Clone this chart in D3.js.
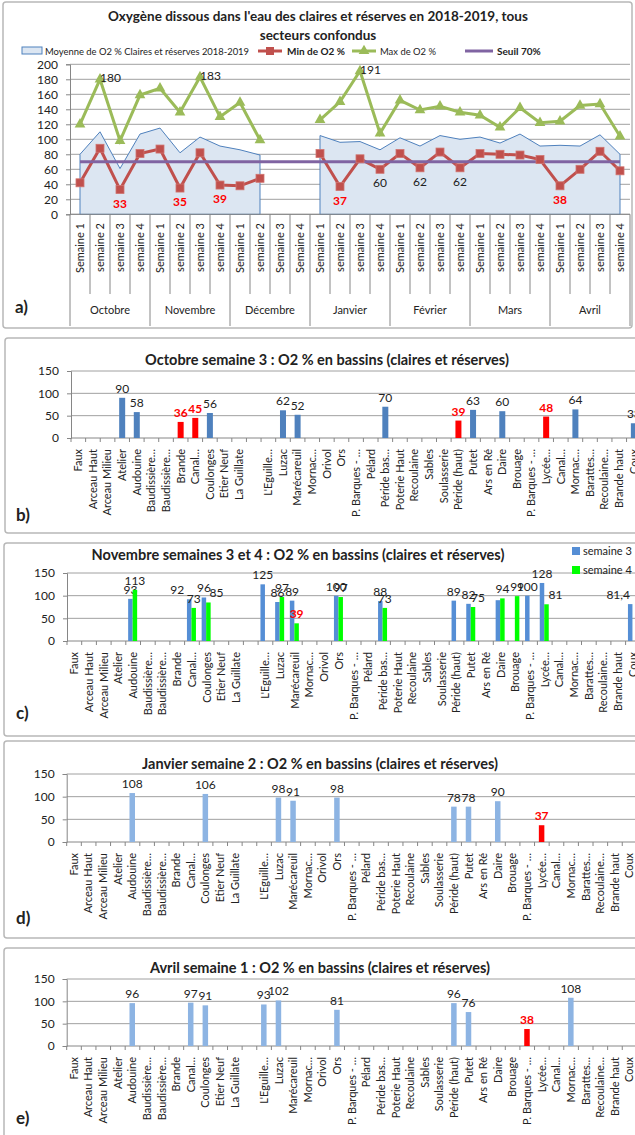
<!DOCTYPE html>
<html>
<head>
<meta charset="utf-8">
<script src="https://cdn.jsdelivr.net/npm/d3@7"></script>
<style>
  body { margin: 0; background: #fff; }
  text { font-family: Lato, "Open Sans", sans-serif; }
</style>
</head>
<body>
<script>
// ---- panel a : weekly O2 %, all sectors ----
const months = ["Octobre", "Novembre", "Décembre", "Janvier", "Février", "Mars", "Avril"];
const weeks = [
  "Semaine 1", "semaine 2", "semaine 3", "semaine 4",
  "Semaine 1", "semaine 2", "semaine 3", "semaine 4",
  "Semaine 1", "semaine 2", "Semaine 3", "Semaine 4",
  "Semaine 1", "semaine 2", "semaine 3", "semaine 4",
  "Semaine 1", "semaine 2", "semaine 3", "semaine 4",
  "Semaine 1", "semaine 2", "semaine 3", "semaine 4",
  "Semaine 1", "semaine 2", "semaine 3", "semaine 4"
];
const moyenne = [80, 110, 61, 107, 115, 82, 103, 91, 86, 79, null, null,
  105, 96, 97, 86, 102, 91, 105, 100, 103, 95, 107, 91, 92, 91, 106, 80];
const minO2 = [42, 88, 33, 81, 87, 35, 82, 39, 38, 48, null, null,
  81, 37, 74, 60, 81, 62, 83, 62, 81, 80, 79, 73, 38, 60, 84, 58];
const maxO2 = [120, 180, 98, 159, 168, 136, 183, 130, 149, 99, null, null,
  126, 150, 191, 108, 152, 139, 144, 136, 132, 116, 142, 122, 124, 145, 147, 104];
const seuil = 70;
const minLabelIdx = [2, 5, 7, 13, 15, 17, 19, 24];
const maxLabelIdx = [1, 6, 14];

// ---- panels b to e : O2 % per basin ----
const bassins = ["Faux", "Arceau Haut", "Arceau Milieu", "Atelier", "Audouine",
  "Baudissière…", "Baudissière…", "Brande", "Canal…", "Coulonges", "Etier Neuf",
  "La Guillate", "", "L'Eguille…", "Luzac", "Marécareuil", "Mornac…", "Orivol", "Ors",
  "P. Barques - …", "Pélard", "Péride bas…", "Poterie Haut", "Recoulaine", "Sables",
  "Soulasserie", "Péride (haut)", "Putet", "Ars en Ré", "Daire", "Brouage",
  "P. Barques - …", "Lycée…", "Canal…", "Mornac…", "Barattes…", "Recoulaine…",
  "Brande haut", "Coux"];

const N = null;
const octS3 = [N, N, N, 90, 58, N, N, 36, 45, 56, N, N, N, N, 62, 52, N, N, N, N, N, 70,
  N, N, N, N, 39, 63, N, 60, N, N, 48, N, 64, N, N, N, 33];
const octAlert = [7, 8, 26, 32];

const novS3 = [N, N, N, N, 93, N, N, N, 92, 96, N, N, N, 125, 86, 89, N, N, 100, N, N, 88,
  N, N, N, N, 89, 82, N, 90, N, 100, 128, N, N, N, N, N, 81.4];
const novS4 = [N, N, N, N, 113, N, N, N, 73, 85, N, N, N, N, 97, 39, N, N, 97, N, N, 73,
  N, N, N, N, N, 75, N, 94, 99, N, 81, N, N, N, N, N, N];
const novS4Alert = [15];

const janS2 = [N, N, N, N, 108, N, N, N, N, 106, N, N, N, N, 98, 91, N, N, 98, N, N, N,
  N, N, N, N, 78, 78, N, 90, N, N, 37, N, N, N, N, N, N];
const janAlert = [32];

const avrS1 = [N, N, N, N, 96, N, N, N, 97, 91, N, N, N, 93, 102, N, N, N, 81, N, N, N,
  N, N, N, N, 96, 76, N, N, N, 38, N, N, 108, N, N, N, N];
const avrAlert = [31];

const W = 635, H = 1135;
const svg = d3.select("body").append("svg")
  .attr("width", W).attr("height", H)
  .attr("xmlns", "http://www.w3.org/2000/svg");

const gridCol = "#a0a0a0", axisCol = "#868686", txtCol = "#222";

function frame(x, y, w, h) {
  svg.append("rect").attr("x", x).attr("y", y).attr("width", w).attr("height", h)
    .attr("rx", 3).attr("fill", "#fff").attr("stroke", "#b8b8b8").attr("stroke-width", 1.5);
}

function fmt(v) { return String(v).replace(".", ","); }

// ================= panel a =================
frame(3, 2, 629, 326);

const xA = d3.scaleBand().domain(d3.range(weeks.length)).range([70, 630]);
const yA = d3.scaleLinear().domain([0, 200]).range([214.3, 64.3]);
const cxA = i => xA(i) + xA.bandwidth() / 2;

const gA = svg.append("g");

gA.append("text").attr("x", 318).attr("y", 21).attr("text-anchor", "middle")
  .attr("font-size", 13.5).attr("font-weight", "bold").attr("fill", txtCol)
  .text("Oxygène dissous dans l'eau des claires et réserves en 2018-2019, tous");
gA.append("text").attr("x", 318).attr("y", 40).attr("text-anchor", "middle")
  .attr("font-size", 13.5).attr("font-weight", "bold").attr("fill", txtCol)
  .text("secteurs confondus");

// grid + y axis
gA.append("g").selectAll("line").data(yA.ticks(10)).join("line")
  .attr("x1", 70).attr("x2", 630)
  .attr("y1", d => yA(d)).attr("y2", d => yA(d))
  .attr("stroke", gridCol).attr("stroke-width", 1);
const axA = gA.append("g").attr("transform", "translate(70,0)")
  .call(d3.axisLeft(yA).ticks(10).tickSize(4).tickPadding(8));
axA.select(".domain").attr("stroke", axisCol);
axA.selectAll(".tick line").attr("stroke", axisCol);
axA.selectAll(".tick text").attr("font-size", 12).attr("fill", txtCol)
  .attr("font-family", "Lato, 'Open Sans', sans-serif");

// area (moyenne)
const area = d3.area().defined(d => d != null)
  .x((d, i) => cxA(i)).y0(yA(0)).y1(d => yA(d));
gA.append("path").datum(moyenne).attr("d", area)
  .attr("fill", "#dce6f2").attr("stroke", "#4f81bd").attr("stroke-width", 1);

// min / max lines
const line = d3.line().defined(d => d != null).x((d, i) => cxA(i)).y(d => yA(d));
gA.append("path").datum(minO2).attr("d", line)
  .attr("fill", "none").attr("stroke", "#c0504d").attr("stroke-width", 3);
gA.append("path").datum(maxO2).attr("d", line)
  .attr("fill", "none").attr("stroke", "#9bbb59").attr("stroke-width", 3);

// seuil
gA.append("line").attr("x1", cxA(0)).attr("x2", cxA(weeks.length - 1))
  .attr("y1", yA(seuil)).attr("y2", yA(seuil))
  .attr("stroke", "#8064a2").attr("stroke-width", 3);

const minPts = minO2.map((v, i) => ({ v, i })).filter(d => d.v != null);
const maxPts = maxO2.map((v, i) => ({ v, i })).filter(d => d.v != null);
gA.append("g").selectAll("rect").data(minPts).join("rect")
  .attr("x", d => cxA(d.i) - 4).attr("y", d => yA(d.v) - 4)
  .attr("width", 8).attr("height", 8)
  .attr("fill", "#c0504d").attr("stroke", "#d07470").attr("stroke-width", 0.8);
const tri = d3.symbol().type(d3.symbolTriangle).size(50);
gA.append("g").selectAll("path").data(maxPts).join("path")
  .attr("d", tri).attr("transform", d => `translate(${cxA(d.i)},${yA(d.v)})`)
  .attr("fill", "#9bbb59");

// labels
gA.append("g").selectAll("text").data(minLabelIdx).join("text")
  .attr("x", i => cxA(i)).attr("y", i => yA(minO2[i]) + 18)
  .attr("text-anchor", "middle").attr("font-size", 12)
  .attr("font-weight", i => minO2[i] < 40 ? "bold" : "normal")
  .attr("fill", i => minO2[i] < 40 ? "#ff0000" : txtCol)
  .text(i => minO2[i]);
gA.append("g").selectAll("text").data(maxLabelIdx).join("text")
  .attr("x", i => cxA(i)).attr("y", i => yA(maxO2[i]) + 3)
  .attr("font-size", 12).attr("fill", txtCol)
  .text(i => maxO2[i]);

// multi-level x axis
gA.append("line").attr("x1", 70).attr("x2", 630).attr("y1", yA(0)).attr("y2", yA(0))
  .attr("stroke", axisCol);
gA.append("g").selectAll("line").data(d3.range(weeks.length + 1)).join("line")
  .attr("x1", i => 70 + i * xA.step()).attr("x2", i => 70 + i * xA.step())
  .attr("y1", yA(0)).attr("y2", i => i % 4 === 0 ? 326 : 294)
  .attr("stroke", axisCol).attr("stroke-width", 1);
gA.append("g").selectAll("text").data(weeks).join("text")
  .attr("transform", (d, i) => `translate(${cxA(i)},223) rotate(-90)`)
  .attr("text-anchor", "end").attr("dy", "0.35em")
  .attr("font-size", 11).attr("fill", txtCol).text(d => d);
gA.append("g").selectAll("text").data(months).join("text")
  .attr("x", (d, i) => 70 + (i * 4 + 2) * xA.step()).attr("y", 314)
  .attr("text-anchor", "middle").attr("font-size", 11).attr("fill", txtCol).text(d => d);

// legend
const lg = gA.append("g").attr("font-size", 10).attr("fill", txtCol);
lg.append("rect").attr("x", 22).attr("y", 47).attr("width", 20).attr("height", 7)
  .attr("fill", "#dce6f2").attr("stroke", "#4f81bd");
lg.append("text").attr("x", 45).attr("y", 55)
  .attr("textLength", 204).attr("lengthAdjust", "spacingAndGlyphs")
  .text("Moyenne de O2 % Claires et réserves 2018-2019");
lg.append("line").attr("x1", 258).attr("x2", 282).attr("y1", 51).attr("y2", 51)
  .attr("stroke", "#c0504d").attr("stroke-width", 3);
lg.append("rect").attr("x", 266).attr("y", 47).attr("width", 8).attr("height", 8).attr("fill", "#c0504d");
lg.append("text").attr("x", 287).attr("y", 55).attr("font-weight", "bold")
  .attr("textLength", 58).attr("lengthAdjust", "spacingAndGlyphs").text("Min de O2 %");
lg.append("line").attr("x1", 352).attr("x2", 376).attr("y1", 51).attr("y2", 51)
  .attr("stroke", "#9bbb59").attr("stroke-width", 3);
lg.append("path").attr("d", tri).attr("transform", "translate(364,51)").attr("fill", "#9bbb59");
lg.append("text").attr("x", 380).attr("y", 55)
  .attr("textLength", 56).attr("lengthAdjust", "spacingAndGlyphs").text("Max de O2 %");
lg.append("line").attr("x1", 465).attr("x2", 493).attr("y1", 51).attr("y2", 51)
  .attr("stroke", "#8064a2").attr("stroke-width", 3);
lg.append("text").attr("x", 497).attr("y", 55).attr("font-weight", "bold").text("Seuil 70%");

gA.append("text").attr("x", 15).attr("y", 313).attr("font-size", 17)
  .attr("font-weight", "bold").attr("fill", txtCol).text("a)");

// ================= bar panels =================
function barPanel(p) {
  frame(p.box[0], p.box[1], p.box[2], p.box[3]);
  const g = svg.append("g");
  const x = d3.scaleBand().domain(d3.range(bassins.length))
    .range([p.x0, p.x0 + bassins.length * p.step]);
  const y = d3.scaleLinear().domain([0, 150]).range([p.zeroY, p.topY]);
  const cx = i => x(i) + x.bandwidth() / 2;

  g.append("text").attr("x", p.titleX).attr("y", p.titleY).attr("text-anchor", "middle")
    .attr("font-size", 14.5).attr("font-weight", "bold").attr("fill", txtCol).text(p.title);

  g.append("g").selectAll("line").data([50, 100, 150]).join("line")
    .attr("x1", p.x0).attr("x2", W).attr("y1", d => y(d)).attr("y2", d => y(d))
    .attr("stroke", gridCol);
  const ay = g.append("g").attr("transform", `translate(${p.x0},0)`)
    .call(d3.axisLeft(y).tickValues([0, 50, 100, 150]).tickSize(4).tickPadding(8));
  ay.select(".domain").attr("stroke", axisCol);
  ay.selectAll(".tick line").attr("stroke", axisCol);
  ay.selectAll(".tick text").attr("font-size", 12).attr("fill", txtCol)
    .attr("font-family", "Lato, 'Open Sans', sans-serif");

  g.append("line").attr("x1", p.x0).attr("x2", W).attr("y1", p.zeroY).attr("y2", p.zeroY)
    .attr("stroke", axisCol);
  g.append("g").selectAll("line").data(d3.range(bassins.length + 1)).join("line")
    .attr("x1", i => p.x0 + i * p.step).attr("x2", i => p.x0 + i * p.step)
    .attr("y1", p.zeroY).attr("y2", p.zeroY + 4).attr("stroke", axisCol);
  g.append("g").selectAll("text").data(bassins).join("text")
    .attr("transform", (d, i) => `translate(${cx(i)},${p.zeroY + 11}) rotate(-90)`)
    .attr("text-anchor", "end").attr("dy", "0.35em")
    .attr("font-size", 11).attr("fill", txtCol).text(d => d);

  p.series.forEach(s => {
    const alert = s.alert || [];
    const pts = s.values.map((v, i) => ({ v, i })).filter(d => d.v != null);
    g.append("g").selectAll("rect").data(pts).join("rect")
      .attr("x", d => cx(d.i) + s.dx).attr("y", d => y(d.v))
      .attr("width", s.w).attr("height", d => p.zeroY - y(d.v))
      .attr("fill", d => s.redBar && alert.includes(d.i) ? "#ff0000" : s.color);
    g.append("g").selectAll("text").data(pts.filter(d => !(s.hide || []).includes(d.i))).join("text")
      .attr("x", d => cx(d.i) + s.dx + s.w / 2 + ((s.shift || {})[d.i] || 0))
      .attr("y", d => y(d.v) - 5)
      .attr("text-anchor", "middle").attr("font-size", 12)
      .attr("font-weight", d => alert.includes(d.i) ? "bold" : "normal")
      .attr("fill", d => alert.includes(d.i) ? "#ff0000" : txtCol)
      .text(d => fmt(d.v));
  });

  g.append("text").attr("x", 16).attr("y", p.letterY).attr("font-size", 17)
    .attr("font-weight", "bold").attr("fill", txtCol).text(p.letter);
  return g;
}

barPanel({
  box: [5, 338, 660, 195], x0: 71, step: 14.62, zeroY: 438, topY: 371,
  title: "Octobre semaine 3 : O2 % en bassins (claires et réserves)", titleX: 327, titleY: 365,
  letter: "b)", letterY: 521,
  series: [{ values: octS3, color: "#4f81bd", redBar: true, alert: octAlert, dx: -3, w: 6 }]
});

const gc = barPanel({
  box: [4, 543, 660, 193], x0: 67, step: 14.7, zeroY: 641, topY: 573,
  title: "Novembre semaines 3 et 4 : O2 %  en bassins (claires et réserves)", titleX: 298, titleY: 560,
  letter: "c)", letterY: 719,
  series: [
    { values: novS3, color: "#558ed5", dx: -5, w: 4.5, hide: [29], shift: { 8: -12, 38: -12 } },
    { values: novS4, color: "#00ff00", alert: novS4Alert, dx: -0.5, w: 4.5, shift: { 9: 8, 27: 5, 32: 9 } }
  ]
});
gc.append("rect").attr("x", 572).attr("y", 547).attr("width", 8).attr("height", 8).attr("fill", "#558ed5");
gc.append("text").attr("x", 583).attr("y", 555).attr("font-size", 11).attr("fill", txtCol).text("semaine 3");
gc.append("rect").attr("x", 572).attr("y", 566).attr("width", 8).attr("height", 8).attr("fill", "#00ff00");
gc.append("text").attr("x", 583).attr("y", 574).attr("font-size", 11).attr("fill", txtCol).text("semaine 4");

barPanel({
  box: [4, 741, 660, 197], x0: 66.7, step: 14.62, zeroY: 842, topY: 774,
  title: "Janvier semaine 2 : O2 % en bassins (claires et réserves)", titleX: 320, titleY: 769,
  letter: "d)", letterY: 924,
  series: [{ values: janS2, color: "#8db4e3", redBar: true, alert: janAlert, dx: -3, w: 5.5 }]
});

barPanel({
  box: [4, 948, 660, 200], x0: 66.7, step: 14.62, zeroY: 1046, topY: 979,
  title: "Avril semaine 1 : O2 % en bassins (claires et réserves)", titleX: 320, titleY: 973,
  letter: "e)", letterY: 1124,
  series: [{ values: avrS1, color: "#8db4e3", redBar: true, alert: avrAlert, dx: -3, w: 5.5 }]
});
</script>
</body>
</html>
